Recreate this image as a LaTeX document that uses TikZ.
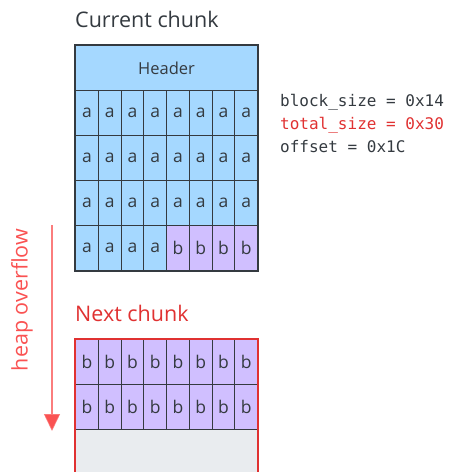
\documentclass[tikz,border=0pt]{standalone}
\usepackage{fontspec}
\setmainfont{Open Sans}
\setmonofont{DejaVu Sans Mono}
\usetikzlibrary{arrows.meta}
\definecolor{cellblue}{HTML}{A5D8FF}
\definecolor{cellpurple}{HTML}{D0BFFF}
\definecolor{cellgrey}{HTML}{E9ECEF}
\definecolor{gridline}{HTML}{343A40}
\definecolor{textdark}{HTML}{343A40}
\definecolor{alertred}{HTML}{E03131}
\definecolor{arrowred}{HTML}{FA5252}
\tikzset{
  cell/.style={draw=gridline, line width=1.2pt, inner sep=0pt, anchor=north west,
    minimum width=22.75pt, minimum height=45pt, font=\fontsize{17.5}{17.5}\selectfont, text=textdark},
  acell/.style={cell, fill=cellblue},
  bcell/.style={cell, fill=cellpurple},
  title/.style={anchor=base west, inner sep=0pt, font=\fontsize{21.5}{21.5}\selectfont},
  code/.style={anchor=base west, inner sep=0pt, font=\ttfamily\fontsize{16}{16}\selectfont, text=textdark},
}
\begin{document}
\begin{tikzpicture}[x=1pt,y=-1pt]
\useasboundingbox (0,0) rectangle (452,472);

% current chunk
\node[title, text=textdark] (curtitle) at (75,27.5) {Current chunk};
\node[draw=gridline, line width=1.2pt, fill=cellblue, inner sep=0pt, anchor=north west,
  minimum width=182pt, minimum height=45.5pt, font=\fontsize{16.5}{16.5}\selectfont, text=textdark]
  (header) at (75,44.5) {Header};
\foreach \r in {0,1,2} {
  \foreach \c in {0,...,7} {
    \node[acell] (cur-\r-\c) at ({75+\c*22.75},{90+\r*45}) {a};
  }
}
\foreach \c in {0,...,3} {
  \node[acell] (cur-3-\c) at ({75+\c*22.75},225) {a};
}
\foreach \c in {4,...,7} {
  \node[bcell] (cur-3-\c) at ({75+\c*22.75},225) {b};
}
\draw[gridline, line width=2pt] (header.north west) rectangle (cur-3-7.south east);

% chunk fields
\node[code] (blocksize) at (280,106) {block\_size = 0x14};
\node[code, text=alertred] (totalsize) at (280,129) {total\_size = 0x30};
\node[code] (offset) at (280,152) {offset = 0x1C};

% next chunk
\node[title, text=alertred] (nexttitle) at (75,321) {Next chunk};
\foreach \r in {0,1} {
  \foreach \c in {0,...,7} {
    \node[bcell] (nxt-\r-\c) at ({75+\c*22.75},{339+\r*45}) {b};
  }
}
\node[fill=cellgrey, draw=gridline, line width=1.2pt, inner sep=0pt, anchor=north west,
  minimum width=182pt, minimum height=50pt] (free) at (75,429) {};
\draw[alertred, line width=2pt] (free.south west) |- (nxt-0-0.north west) -- (nxt-0-7.north east) -- (free.south east);

% overflow arrow
\coordinate (ovtop) at (52,225);
\coordinate (ovbot) at (52,431);
\draw[arrowred, draw opacity=0.75, line width=1.5pt, -{Triangle[width=16pt,length=17pt,fill=arrowred]}] (ovtop) -- (ovbot);
\node[rotate=90, text=arrowred, font=\fontsize{21.5}{21.5}\selectfont, inner sep=0pt] (ovlabel) at (22,300) {heap overflow};
\end{tikzpicture}
\end{document}
